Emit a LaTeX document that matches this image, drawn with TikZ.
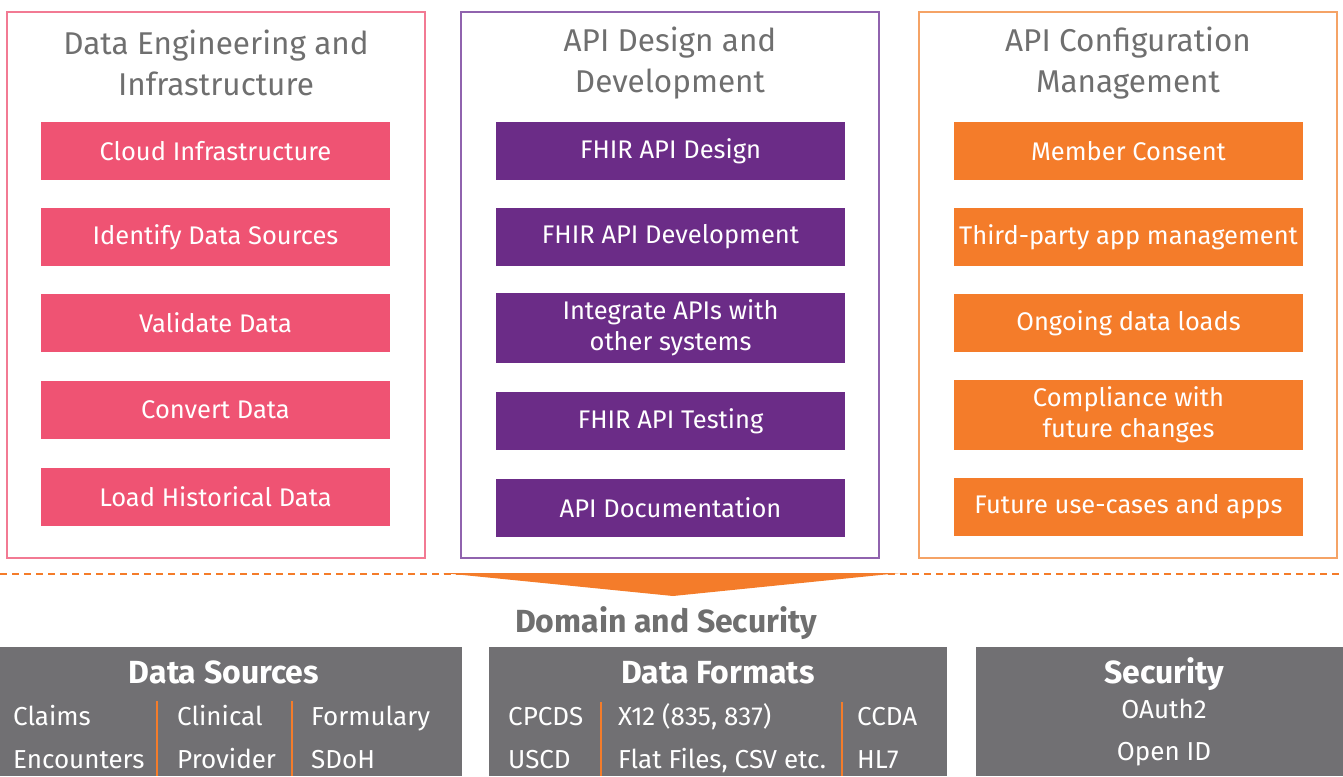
\documentclass[tikz,border=0pt]{standalone}
\usepackage{fontspec}
\setmainfont{Fira Sans}
\definecolor{pinkfill}{HTML}{EF5373}
\definecolor{pinkline}{HTML}{F27A93}
\definecolor{purplefill}{HTML}{6B2C87}
\definecolor{purpleline}{HTML}{9063AE}
\definecolor{orangefill}{HTML}{F47C2A}
\definecolor{orangeline}{HTML}{F5A366}
\definecolor{greypanel}{HTML}{717073}
\definecolor{greytext}{HTML}{6F6F6F}

\tikzset{
  panelframe/.style={draw=#1, line width=1.3pt},
  taskbox/.style={fill=#1, text=white, minimum width=349pt, minimum height=58pt,
    inner sep=0pt, align=center, font=\fontsize{25.5}{32}\selectfont},
  coltitle/.style={text=greytext, align=center, font=\fontsize{31.5}{41}\selectfont},
  greybox/.style={fill=greypanel, inner sep=0pt},
  greyhead/.style={text=white, anchor=base, font=\fontsize{32}{36}\selectfont\bfseries},
  greyitem/.style={text=white, anchor=base west, inner sep=0pt, font=\fontsize{26}{30}\selectfont},
  sepline/.style={draw=orangefill, line width=1.5pt}
}

\begin{document}
\begin{tikzpicture}[x=1pt, y=-1pt]
  \useasboundingbox (0,0) rectangle (1343,776);

  % Three top frames
  \draw[panelframe=pinkline] (7,12) rectangle (425,558);
  \draw[panelframe=purpleline] (461,12) rectangle (879,558);
  \draw[panelframe=orangeline] (919,12) rectangle (1337,558);

  \node[coltitle] (t1) at (216,63) {Data Engineering and\\Infrastructure};
  \node[coltitle] (t2) at (670,63) {API Design and\\Development};
  \node[coltitle] (t3) at (1128,63) {API Configuration\\Management};

  % Data engineering tasks
  \node[taskbox=pinkfill] (cloud) at (215.5,151) {Cloud Infrastructure};
  \node[taskbox=pinkfill] (ident) at (215.5,237) {Identify Data Sources};
  \node[taskbox=pinkfill] (valid) at (215.5,323) {Validate Data};
  \node[taskbox=pinkfill] (conv)  at (215.5,410) {Convert Data};
  \node[taskbox=pinkfill] (load)  at (215.5,497) {Load Historical Data};

  % API design tasks
  \node[taskbox=purplefill] (design) at (670.5,151) {FHIR API Design};
  \node[taskbox=purplefill] (devel)  at (670.5,237) {FHIR API Development};
  \node[taskbox=purplefill, minimum height=70pt, font=\fontsize{25.5}{31}\selectfont] (integ) at (670.5,328) {Integrate APIs with\\other systems};
  \node[taskbox=purplefill] (test)   at (670.5,421) {FHIR API Testing};
  \node[taskbox=purplefill] (docs)   at (670.5,508) {API Documentation};

  % API configuration tasks
  \node[taskbox=orangefill] (consent) at (1128.5,151) {Member Consent};
  \node[taskbox=orangefill] (third)   at (1128.5,237) {Third-party app management};
  \node[taskbox=orangefill] (ongoing) at (1128.5,323) {Ongoing data loads};
  \node[taskbox=orangefill, minimum height=70pt, font=\fontsize{25.5}{31}\selectfont] (comply) at (1128.5,415) {Compliance with\\future changes};
  \node[taskbox=orangefill] (future)  at (1128.5,507) {Future use-cases and apps};

  % Dashed divider and funnel
  \draw[orangefill, line width=1.5pt, dash pattern=on 7pt off 5pt] (0,574) -- (1343,574);
  \fill[orangefill] (443,573) -- (900,573) -- (673,596) -- cycle;
  \node[text=greytext, anchor=base, font=\fontsize{32}{38}\selectfont\bfseries] (domain) at (666,632) {Domain and Security};

  % Data sources panel
  \node[greybox, minimum width=462pt, minimum height=129pt] (srcpanel) at (231,711.5) {};
  \node[greyhead] (srchead) at (224,683) {Data Sources};
  \node[greyitem] (claims) at (13,725) {Claims};
  \node[greyitem] (enc)    at (13,768) {Encounters};
  \node[greyitem] (clin)   at (177,725) {Clinical};
  \node[greyitem] (prov)   at (177,768) {Provider};
  \node[greyitem] (form)   at (311,725) {Formulary};
  \node[greyitem] (sdoh)   at (311,768) {SDoH};
  \draw[sepline] (157,701) -- (157,776);
  \draw[sepline] (292,701) -- (292,776);

  % Data formats panel
  \node[greybox, minimum width=458pt, minimum height=129pt] (fmtpanel) at (718,711.5) {};
  \node[greyhead] (fmthead) at (718,683) {Data Formats};
  \node[greyitem] (cpcds) at (508,725) {CPCDS};
  \node[greyitem] (uscd)  at (508,768) {USCD};
  \node[greyitem] (x12)   at (618,725) {X12 (835, 837)};
  \node[greyitem] (flat)  at (618,768) {Flat Files, CSV etc.};
  \node[greyitem] (ccda)  at (857,725) {CCDA};
  \node[greyitem] (hl7)   at (857,768) {HL7};
  \draw[sepline] (601,702) -- (601,776);
  \draw[sepline] (842,702) -- (842,776);

  % Security panel
  \node[greybox, minimum width=367pt, minimum height=129pt] (secpanel) at (1159.5,711.5) {};
  \node[greyhead] (sechead) at (1164,683) {Security};
  \node[greyitem, anchor=base] (oauth) at (1164,718) {OAuth2};
  \node[greyitem, anchor=base] (openid) at (1164,760) {Open ID};
\end{tikzpicture}
\end{document}
